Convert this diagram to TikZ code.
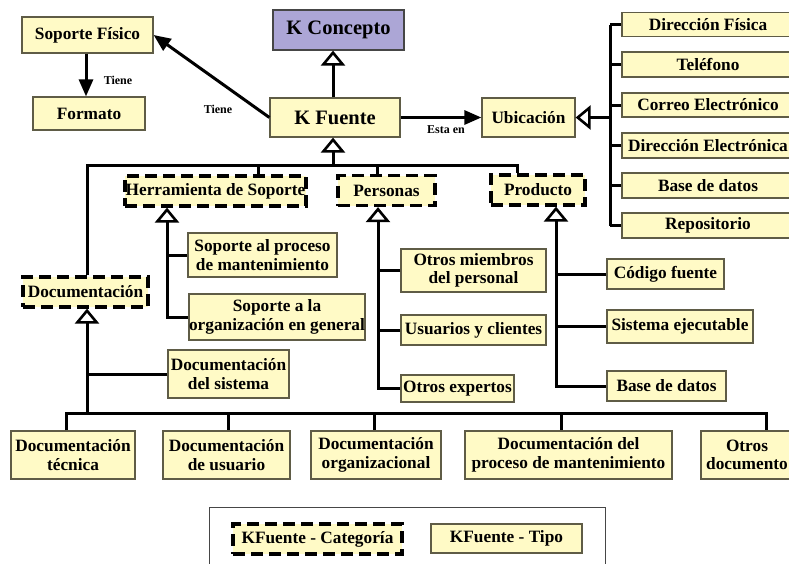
\documentclass[tikz,border=0pt]{standalone}
\usepackage{fontspec}
\setmainfont{Liberation Serif}
\usetikzlibrary{arrows.meta}

\definecolor{boxfill}{RGB}{255,250,198}
\definecolor{boxline}{RGB}{95,92,70}
\definecolor{conceptfill}{RGB}{172,166,214}
\definecolor{legline}{RGB}{70,70,70}

\newcommand\boxfont{\fontsize{17.3}{18.5}\selectfont\bfseries}
\newcommand\bigboxfont{\fontsize{20.5}{22}\selectfont\bfseries}
\newcommand\relfont{\fontsize{12}{12}\selectfont\bfseries}

\tikzset{
  tipobox/.style={draw=boxline, line width=1.2pt, fill=boxfill, inner sep=0pt,
                  align=center, font=\boxfont},
  catbox/.style={draw=black, line width=3.2pt, dash pattern=on 12pt off 6pt,
                 fill=boxfill, inner sep=0pt, align=center, font=\boxfont},
  conn/.style={draw=black, line width=3pt},
  gen/.style={conn, -{Triangle[open, width=24pt, length=15pt, line width=2.6pt, fill=white]}},
  assoc/.style={conn, -{Triangle[width=14pt, length=17pt]}},
  rel/.style={font=\relfont, inner sep=0pt},
}

\begin{document}
\begin{tikzpicture}[x=1pt, y=-1pt]
\useasboundingbox (0,0) rectangle (789,563);

% --- upper part: concept, source, physical support, location
\node[tipobox, minimum width=131pt, minimum height=36pt] (sopfis) at (87.5,35) {Soporte Físico};
\node[tipobox, minimum width=112pt, minimum height=33pt] (formato) at (89,113.5) {Formato};
\node[tipobox, draw=legline, fill=conceptfill, font=\bigboxfont,
      minimum width=131pt, minimum height=40pt] (kconcepto) at (338.5,30) {K Concepto};
\node[tipobox, font=\bigboxfont, minimum width=130pt, minimum height=39pt] (kfuente) at (335,117.5) {K Fuente};
\node[tipobox, minimum width=93pt, minimum height=39pt] (ubic) at (528.5,117.5) {Ubicación};

% --- kinds of location
\node[tipobox, minimum width=172pt, minimum height=24pt] (dirfis) at (708,24.5) {Dirección Física};
\node[tipobox, minimum width=172pt, minimum height=25pt] (tel)    at (708,64.5) {Teléfono};
\node[tipobox, minimum width=172pt, minimum height=24pt] (correo) at (708,105) {Correo Electrónico};
\node[tipobox, minimum width=172pt, minimum height=25pt] (direl)  at (708,145.5) {Dirección Electrónica};
\node[tipobox, minimum width=172pt, minimum height=25pt] (bdloc)  at (708,185.5) {Base de datos};
\node[tipobox, minimum width=172pt, minimum height=25pt] (repo)   at (708,225.5) {Repositorio};

% --- categories
\node[catbox, minimum width=181pt, minimum height=30pt] (herr)     at (215.5,191) {Herramienta de Soporte};
\node[catbox, minimum width=97pt,  minimum height=30pt] (personas) at (386.5,190.5) {Personas};
\node[catbox, minimum width=94pt,  minimum height=30pt] (producto) at (538,190) {Producto};
\node[catbox, minimum width=125pt, minimum height=30pt] (docum)    at (85.5,292) {Documentación};

% --- types
\node[tipobox, minimum width=149pt, minimum height=44pt] (sopproc) at (262.5,255) {Soporte al proceso\\de mantenimiento};
\node[tipobox, minimum width=176pt, minimum height=46pt] (soporg)  at (277,317) {Soporte a la\\organización en general};
\node[tipobox, minimum width=121pt, minimum height=48pt] (docsis)  at (228.5,374) {Documentación\\del sistema};
\node[tipobox, minimum width=145pt, minimum height=43pt] (otrosmiem) at (473.5,270.5) {Otros miembros\\del personal};
\node[tipobox, minimum width=145pt, minimum height=30pt] (usuarios)  at (473.5,330) {Usuarios y clientes};
\node[tipobox, minimum width=113pt, minimum height=27pt] (otrosexp)  at (457.5,388.5) {Otros expertos};
\node[tipobox, minimum width=117pt, minimum height=30pt] (codigo) at (665.5,274) {Código fuente};
\node[tipobox, minimum width=146pt, minimum height=33pt] (sisej)  at (680,326.5) {Sistema ejecutable};
\node[tipobox, minimum width=119pt, minimum height=30pt] (bdprod) at (666.5,386) {Base de datos};

% --- documentation types
\node[tipobox, minimum width=124pt, minimum height=48pt] (dtec)   at (73,455) {Documentación\\técnica};
\node[tipobox, minimum width=127pt, minimum height=48pt] (dusu)   at (226.5,455) {Documentación\\de usuario};
\node[tipobox, minimum width=130pt, minimum height=48pt] (dorg)   at (376,455) {Documentación\\organizacional};
\node[tipobox, minimum width=207pt, minimum height=48pt] (dproc)  at (568.5,455) {Documentación del\\proceso de mantenimiento};
\node[tipobox, minimum width=92pt,  minimum height=48pt] (dotros) at (747,455) {Otros\\documento};

% --- legend
\node[draw=legline, line width=1.3pt, fill=white, minimum width=396pt, minimum height=70pt,
      anchor=north west] (leyenda) at (209,507) {};
\node[catbox, minimum width=169pt, minimum height=30pt] (legcat) at (317.5,539) {KFuente - Categoría};
\node[tipobox, minimum width=151pt, minimum height=29pt] (legtipo) at (506.5,538.5) {KFuente - Tipo};

% --- associations
\draw[assoc] (sopfis.south -| formato.north) ++(-3,0) coordinate (sf) -- (sf |- formato.north);
\node[rel] (tiene1) at (118,80) {Tiene};
\draw[assoc] (kfuente.west) -- (sopfis.east);
\node[rel] (tiene2) at (218,109) {Tiene};
\draw[assoc] (kfuente.east) -- (ubic.west);
\node[rel] (estaen) at (446,130) {Esta en};

% --- generalisations
\coordinate (kx) at (333,0);
\draw[gen] (kx |- kfuente.north) -- (kx |- kconcepto.south);

% location kinds
\coordinate (ux) at (610,0);
\draw[conn] (ux |- dirfis.west) -- (ux |- repo.west);
\foreach \n in {dirfis,tel,correo,direl,bdloc,repo}
  \draw[conn] (ux |- \n.west) -- (\n.west);
\draw[gen] (ux |- ubic.east) -- (ubic.east);

% categories of source
\coordinate (cb) at (0,165);
\coordinate (c1) at (87,0);
\coordinate (c2) at (258,0);
\coordinate (c3) at (377,0);
\coordinate (c4) at (517,0);
\draw[gen] (kx |- cb) -- (kx |- kfuente.south);
\draw[conn] (c1 |- docum.north) -- (c1 |- cb) -- (c4 |- cb) -- (c4 |- producto.north);
\draw[conn] (c2 |- cb) -- (c2 |- herr.north);
\draw[conn] (c3 |- cb) -- (c3 |- personas.north);

% support tools
\coordinate (hx) at (167,0);
\draw[gen] (soporg.west) -| (hx |- herr.south);
\draw[conn] (sopproc.west) -- (hx |- sopproc.west);

% people
\coordinate (px) at (378,0);
\draw[gen] (otrosexp.west) -| (px |- personas.south);
\draw[conn] (otrosmiem.west) -- (px |- otrosmiem.west);
\draw[conn] (usuarios.west) -- (px |- usuarios.west);

% products
\coordinate (rx) at (556,0);
\draw[gen] (bdprod.west) -| (rx |- producto.south);
\draw[conn] (codigo.west) -- (rx |- codigo.west);
\draw[conn] (sisej.west) -- (rx |- sisej.west);

% documentation
\coordinate (db) at (0,413);
\draw[gen] (c1 |- db) -- (c1 |- docum.south);
\draw[conn] (docsis.west) -- (c1 |- docsis.west);
\coordinate (b1) at (66,413);
\coordinate (b2) at (228,413);
\coordinate (b3) at (374,413);
\coordinate (b4) at (561,413);
\coordinate (b5) at (766,413);
\draw[conn] (b1 |- dtec.north) -- (b1) -- (b5) -- (b5 |- dotros.north);
\draw[conn] (b2) -- (b2 |- dusu.north);
\draw[conn] (b3) -- (b3 |- dorg.north);
\draw[conn] (b4) -- (b4 |- dproc.north);
\end{tikzpicture}
\end{document}
